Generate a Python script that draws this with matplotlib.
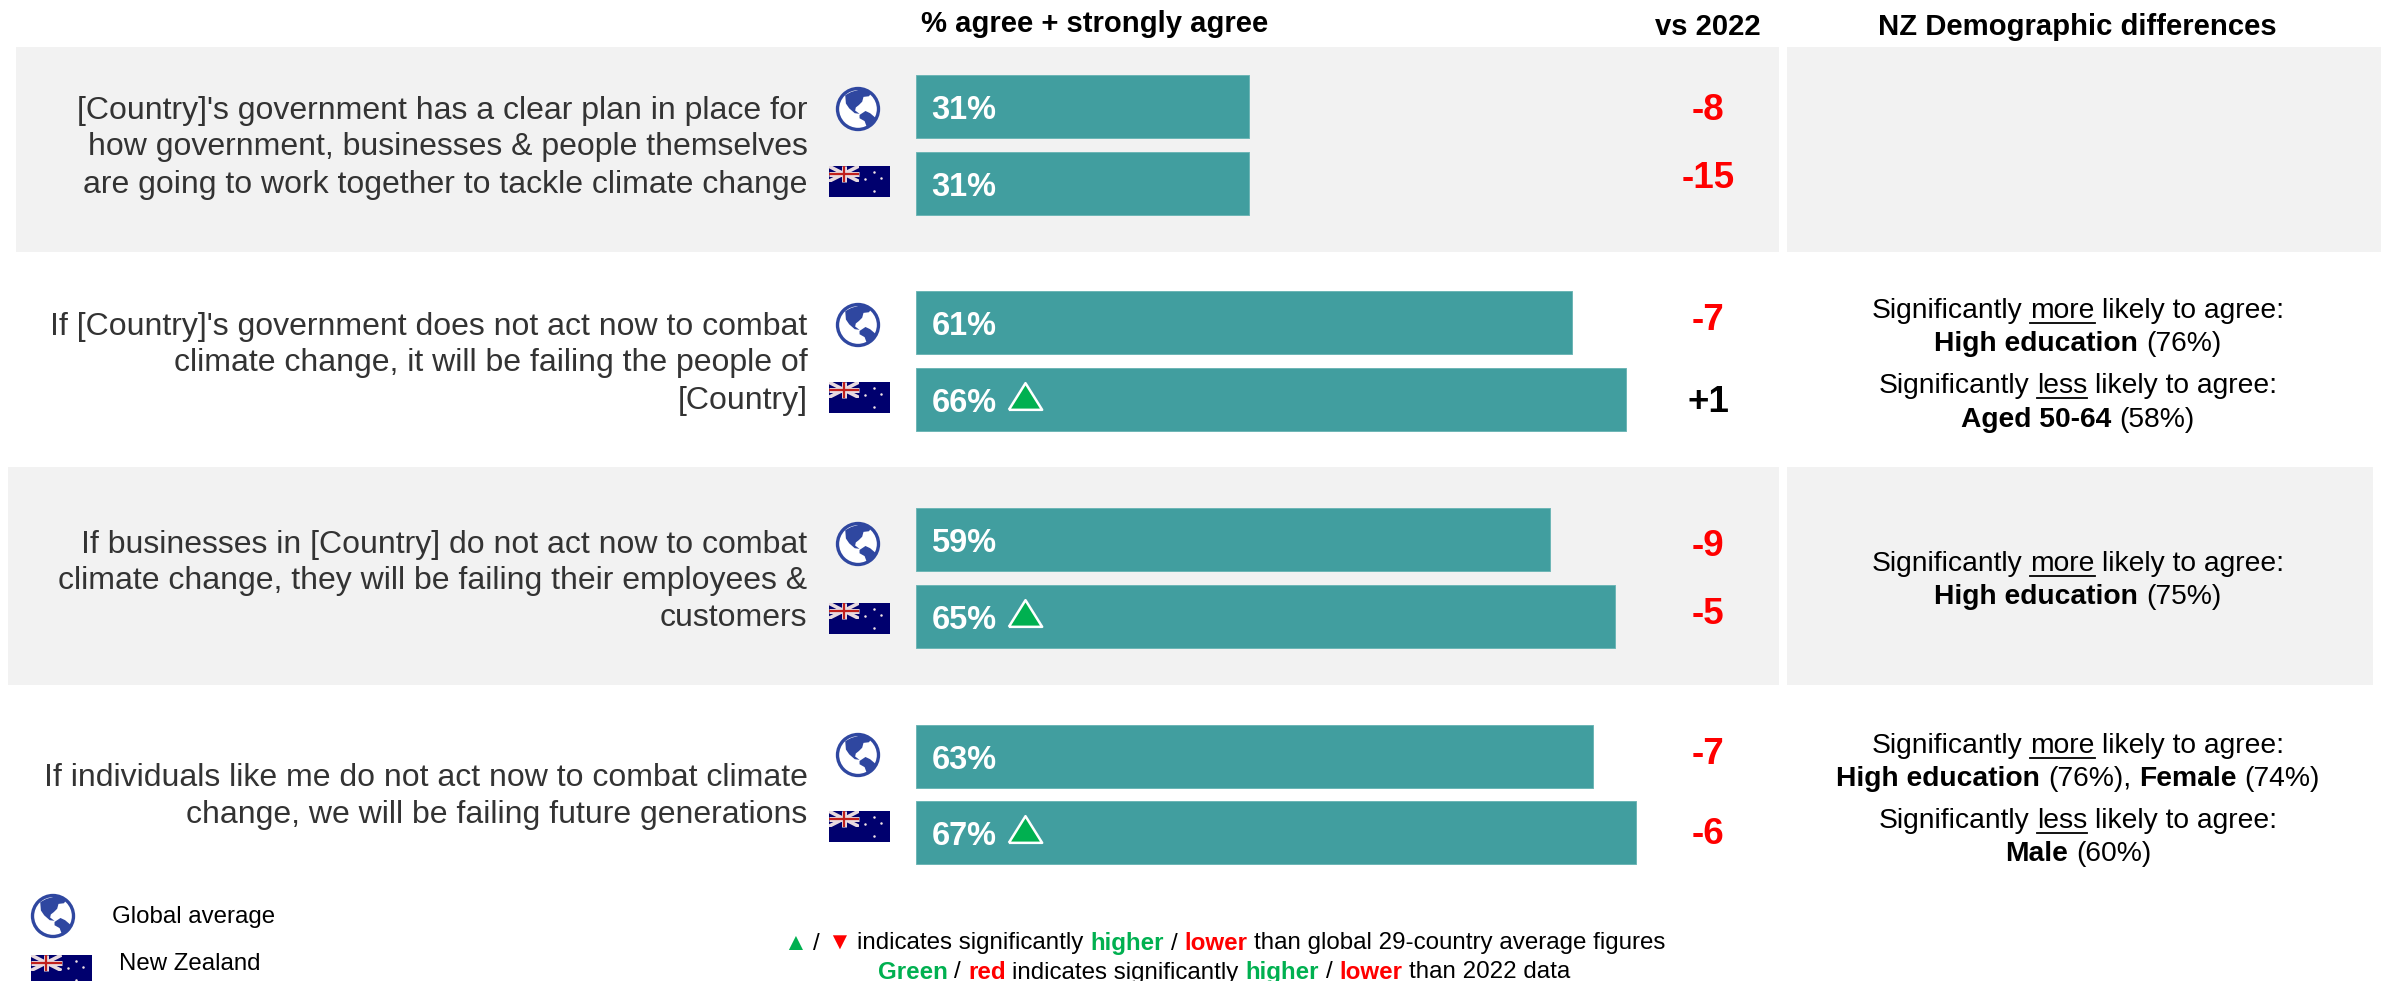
import matplotlib
matplotlib.use('Agg')
import matplotlib.pyplot as plt
from matplotlib.patches import Rectangle, Circle, Polygon

plt.rcParams['font.family'] = ['Liberation Sans', 'DejaVu Sans']

W, H = 2381, 981
TEAL = '#419E9F'
GREEN = '#00B050'
RED = '#FF0000'
GREY = '#F2F2F2'
DARK = '#333333'

# data
questions = [
    ["[Country]'s government has a clear plan in place for",
     "how government, businesses & people themselves",
     "are going to work together to tackle climate change"],
    ["If [Country]'s government does not act now to combat",
     "climate change, it will be failing the people of",
     "[Country]"],
    ["If businesses in [Country] do not act now to combat",
     "climate change, they will be failing their employees &",
     "customers"],
    ["If individuals like me do not act now to combat climate",
     "change, we will be failing future generations"],
]
global_vals = [31, 61, 59, 63]
nz_vals = [31, 66, 65, 67]
nz_higher = [False, True, True, True]
global_change = [-8, -7, -9, -7]
nz_change = [-15, 1, -5, -6]

# layout, pixels
global_bar_y = [106.5, 322.5, 539.5, 756]
nz_bar_y = [183.5, 399.5, 616, 832]
bar_h = 63
question_y = [[108, 144, 181], [324, 360, 397], [541, 577, 614], [775, 811]]
globe_y = [109, 325, 544, 755]
flag_y = [166, 382, 603, 811]
global_change_y = [106.5, 316, 543, 751]
nz_change_y = [175, 398, 611, 831]

fig = plt.figure(figsize=(W / 100, H / 100), dpi=100)
ax = fig.add_axes([0, 0, 1, 1], zorder=0)
ax.set_xlim(0, W)
ax.set_ylim(H, 0)
ax.axis('off')

# bars live on their own percent axis, 100% = 1075 px from x=916
ax_bar = fig.add_axes([916 / W, 0, 1075 / W, 1], zorder=1)
ax_bar.set_xlim(0, 100)
ax_bar.set_ylim(H, 0)
ax_bar.axis('off')

ax_top = fig.add_axes([0, 0, 1, 1], zorder=2)
ax_top.set_xlim(0, W)
ax_top.set_ylim(H, 0)
ax_top.axis('off')

# grey bands
for x0, y0, x1, y1 in [(16, 47, 1779, 252), (1787, 47, 2381, 252),
                       (8, 467, 1779, 685), (1787, 467, 2373, 685)]:
    ax.add_patch(Rectangle((x0, y0), x1 - x0, y1 - y0, fc=GREY, ec='none'))


def draw_globe(a, cx, cy, r=22):
    blue = '#2F47A0'
    a.add_patch(Circle((cx, cy), r - 1.5, fc='white', ec=blue, lw=2.4))
    north = [(-.58, .63), (-.3, .78), (.07, .88), (.4, .88), (.6, .73), (.5, .58), (.25, .55),
             (.19, .33), (.04, .18), (-.1, .07), (-.13, -.07), (.07, -.22), (-.15, -.19),
             (-.4, .03), (-.55, .25)]
    south = [(.07, -.27), (.34, -.09), (.55, -.19), (.82, -.42), (.6, -.67), (.4, -.82),
             (.3, -.55), (.07, -.42)]
    for shape in (north, south):
        a.add_patch(Polygon([(cx + px * r, cy - py * r) for px, py in shape], fc=blue, ec='none'))


def draw_flag(a, x, y, w=61, h=31):
    box = Rectangle((x, y), w, h, fc='#00006E', ec='none')
    a.add_patch(box)
    cw, ch = w / 2, h / 2
    canton = Rectangle((x, y), cw, ch, transform=a.transData)
    for (xa, ya, xb, yb) in [(x, y, x + cw, y + ch), (x, y + ch, x + cw, y)]:
        line, = a.plot([xa, xb], [ya, yb], color='#E8DADF', lw=2.6, solid_capstyle='butt')
        line.set_clip_path(canton)
    a.plot([x, x + cw], [y + ch / 2] * 2, color='#E8DADF', lw=3.6, solid_capstyle='butt')
    a.plot([x + cw / 2] * 2, [y, y + ch], color='#E8DADF', lw=3.6, solid_capstyle='butt')
    a.plot([x, x + cw], [y + ch / 2] * 2, color='#C0201C', lw=1.6, solid_capstyle='butt')
    a.plot([x + cw / 2] * 2, [y, y + ch], color='#C0201C', lw=1.6, solid_capstyle='butt')
    a.plot([x + w * s for s in (.6, .74, .86, .74)], [y + h * s for s in (.42, .2, .4, .82)],
           ls='none', marker='o', ms=1.8, color='#F4E6E6', mew=0)


def rich_line(a, cx, cy, runs, size):
    # runs: (text, color, bold, underline), centred as a whole on cx
    r = fig.canvas.get_renderer()

    def width(s, weight):
        probe = a.text(0, 0, '|' + s + '|', fontsize=size, fontweight=weight)
        w = probe.get_window_extent(r).width
        probe.remove()
        probe = a.text(0, 0, '||', fontsize=size, fontweight=weight)
        w -= probe.get_window_extent(r).width
        probe.remove()
        return w

    sizes = [width(run[0], 'bold' if run[2] else 'normal') for run in runs]
    x = cx - sum(sizes) / 2
    for (txt, col, bold, ul), w in zip(runs, sizes):
        weight = 'bold' if bold else 'normal'
        lead = len(txt) - len(txt.lstrip())
        a.text(x + width(' ' * lead, weight), cy, txt.strip(), color=col, fontsize=size,
               va='center_baseline', ha='left', fontweight=weight)
        if ul:
            a.plot([x, x + w], [cy + size * 0.72] * 2, color=col, lw=1.3)
        x += w


# bars + labels
for i in range(4):
    ax_bar.barh(global_bar_y[i], global_vals[i], height=bar_h, color=TEAL, edgecolor='#6DB6B6', lw=0.7)
    ax_bar.barh(nz_bar_y[i], nz_vals[i], height=bar_h, color=TEAL, edgecolor='#6DB6B6', lw=0.7)
    for val, yy in ((global_vals[i], global_bar_y[i]), (nz_vals[i], nz_bar_y[i])):
        ax_bar.annotate(f'{val}%', (0, yy), xytext=(11, -0.5), textcoords='offset points',
                        color='white', fontsize=23.5, fontweight='bold', va='center_baseline', ha='left')
    if nz_higher[i]:
        ax_bar.plot([10.1], [nz_bar_y[i] - 3.5], marker=[(-1, -.8), (1, -.8), (0, .8), (-1, -.8)], ms=24,
                    mfc=GREEN, mec='white', mew=1.8, ls='none')

    for line, yy in zip(questions[i], question_y[i]):
        ax.text(807.5, yy, line, ha='right', va='center_baseline', fontsize=23, color=DARK)
    draw_globe(ax_top, 858, globe_y[i])
    draw_flag(ax_top, 828.5, flag_y[i])

    for val, yy in ((global_change[i], global_change_y[i]), (nz_change[i], nz_change_y[i])):
        ax.text(1708, yy, f'{val:+d}', ha='center', va='center_baseline', fontsize=26.5, fontweight='bold',
                color=RED if val < 0 else 'black')

# headers
ax.text(1095, 21, '% agree + strongly agree', ha='center', va='center_baseline', fontsize=21.1, fontweight='bold')
ax.text(1708, 24, 'vs 2022', ha='center', va='center_baseline', fontsize=21.1, fontweight='bold')
ax.text(2077, 24, 'NZ Demographic differences', ha='center', va='center_baseline', fontsize=21.1, fontweight='bold')

# demographic notes
k = 'black'
more = [('Significantly ', k, False, False), ('more', k, False, True), (' likely to agree:', k, False, False)]
less = [('Significantly ', k, False, False), ('less', k, False, True), (' likely to agree:', k, False, False)]
notes = [
    (308, more), (341, [('High education', k, True, False), (' (76%)', k, False, False)]),
    (383, less), (417, [('Aged 50-64', k, True, False), (' (58%)', k, False, False)]),
    (561, more), (594, [('High education', k, True, False), (' (75%)', k, False, False)]),
    (743, more), (776, [('High education', k, True, False), (' (76%), ', k, False, False),
                        ('Female', k, True, False), (' (74%)', k, False, False)]),
    (818, less), (851, [('Male', k, True, False), (' (60%)', k, False, False)]),
]
for yy, runs in notes:
    rich_line(ax, 2078, yy, runs, 20.3)

# legend
draw_globe(ax_top, 53, 916)
ax.text(112, 915, 'Global average', fontsize=17.3, va='center_baseline')
draw_flag(ax_top, 31, 955)
ax.text(119, 962, 'New Zealand', fontsize=17.3, va='center_baseline')

# footnote
rich_line(ax, 1224, 941, [('▲', GREEN, False, False), (' / ', k, False, False), ('▼', RED, False, False),
                          (' indicates significantly ', k, False, False), ('higher', GREEN, True, False),
                          (' / ', k, False, False), ('lower', RED, True, False),
                          (' than global 29-country average figures', k, False, False)], 17.35)
rich_line(ax, 1224, 970, [('Green', GREEN, True, False), (' / ', k, False, False), ('red', RED, True, False),
                          (' indicates significantly ', k, False, False), ('higher', GREEN, True, False),
                          (' / ', k, False, False), ('lower', RED, True, False),
                          (' than 2022 data', k, False, False)], 17.35)

fig.savefig('out.png', dpi=100)
